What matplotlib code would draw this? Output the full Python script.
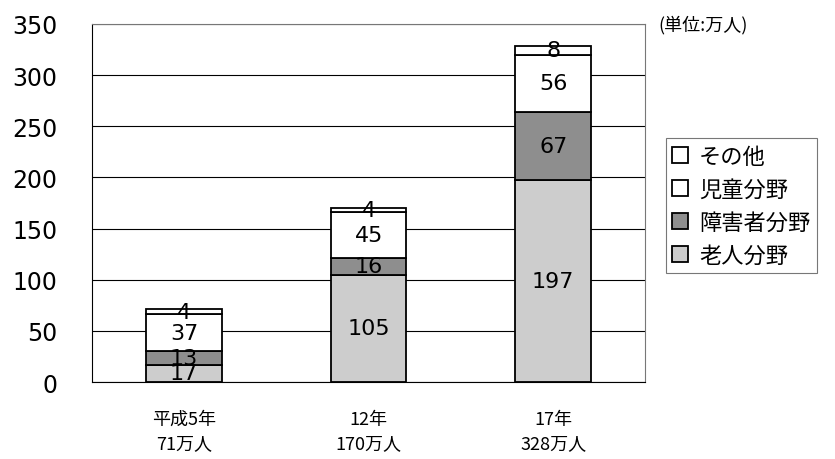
import matplotlib
matplotlib.use('Agg')
import matplotlib.pyplot as plt
import numpy as np

plt.rcParams['font.family'] = ['Noto Sans CJK JP', 'DejaVu Sans']

# 年度別の内訳（単位：万人）
years = ['平成5年\n71万人', '12年\n170万人', '17年\n328万人']
rojin = [17, 105, 197]
shogai = [13, 16, 67]
jido = [37, 45, 56]
sonota = [4, 4, 8]
series_names = ['老人分野', '障害者分野', '児童分野', 'その他']
series_colors = ['#cdcdcd', '#8e8e8e', 'white', 'white']

fig = plt.figure(figsize=(8.35, 4.6), dpi=100)
ax = fig.add_axes([0.110, 0.167, 0.663, 0.779])

x = np.arange(len(years))
bottom = np.zeros(len(years))
handles = []
for name, vals, col in zip(series_names, [rojin, shogai, jido, sonota], series_colors):
    vals = np.array(vals, dtype=float)
    b = ax.bar(x, vals, 0.41, bottom=bottom, color=col, edgecolor='black',
               linewidth=1.3, label=name, zorder=3)
    handles.append(b)
    for xi, v, b0 in zip(x, vals, bottom):
        ax.text(xi, b0 + v / 2, f'{int(v)}', ha='center', va='center',
                fontsize=16, family='DejaVu Sans', zorder=4)
    bottom += vals

ax.set_xlim(-0.5, 2.5)
ax.set_ylim(0, 350)
ax.set_yticks(range(0, 351, 50))
ax.yaxis.grid(True, color='black', linewidth=0.8, zorder=0)
ax.set_axisbelow(True)
ax.set_xticks(x)
ax.set_xticklabels(years, fontsize=13, linespacing=1.45)
ax.tick_params(axis='x', length=0, pad=20)
ax.tick_params(axis='y', length=0, pad=25, labelsize=17)
for lab in ax.get_yticklabels():
    lab.set_family('DejaVu Sans')

ax.spines['left'].set_color('black')
ax.spines['bottom'].set_color('black')
ax.spines['top'].set_color('#777777')
ax.spines['right'].set_color('#777777')
ax.spines['top'].set_linewidth(0.8)
ax.spines['right'].set_linewidth(0.8)

fig.text(0.788, 0.945, '(単位:万人)', fontsize=13, va='center', ha='left')

leg = fig.legend(handles[::-1], series_names[::-1], loc='upper left',
                 bbox_to_anchor=(0.784, 0.722), fontsize=16, frameon=True,
                 fancybox=False, edgecolor='#555555', handlelength=0.7,
                 handleheight=0.7, handletextpad=0.5, borderpad=0.3,
                 labelspacing=0.45)
leg.get_frame().set_linewidth(0.8)

fig.savefig('out.png', dpi=100)
